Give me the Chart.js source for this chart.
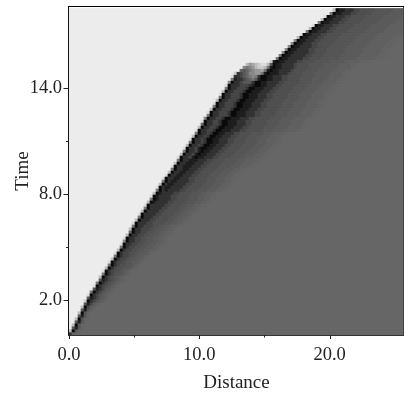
<!DOCTYPE html>
<html>
<head>
<meta charset="utf-8">
<style>html,body{margin:0;padding:0;background:#fff}canvas{display:block}</style>
<script src="https://cdn.jsdelivr.net/npm/chart.js@4/dist/chart.umd.js"></script>
</head>
<body>
<canvas id="c" width="417" height="396"></canvas>
<script>
const xTitle = "Distance";
const yTitle = "Time";
const xMajorTicks = [0, 10, 20];
const xMinorTicks = [5, 15];
const yMajorTicks = [2, 8, 14];
const yMinorTicks = [5, 11];
const xMax = 25.71;
const yMax = 18.6;
const cellDistance = 0.2302;
const cellTime = 0.1698;
const columnCount = 112;
const lightLevel = "e";
const baseLevel = "6";
const levelGrays = { "0": 4, "1": 10, "2": 30, "3": 50, "4": 70, "5": 88, "6": 102, "7": 119, "8": 136, "9": 153, a: 170, b: 187, c: 204, d: 221, e: 236, g: 80, h: 86, i: 91, j: 96, k: 100 };

// Row by row, from the bottom: first column of the band, and levels across the band.
const bandStarts = [
0,0,1,1,2,2,3,3,4,4,5,5,6,6,7,8,8,9,10,10,11,11,12,13,13,14,15,15,16,17,
17,18,18,19,20,20,21,21,22,23,23,24,25,25,26,27,27,28,29,29,30,31,31,32,33,34,34,35,36,36,
37,38,38,39,40,40,41,42,42,43,44,44,45,46,46,47,48,48,49,50,50,51,52,52,53,54,54,55,56,57,
58,67,69,70,71,72,73,74,75,76,77,79,80,81,83,84,85,87,88
];
const bandLevels = [
"36","b1h","52hk","b1ik","52hk","b1hk","52hk","b1hk","52hj","b14ij",
"524ij","c134hij","5234hij","d134hijk","7134hijk","5234hijk","d134ghijk","7134ghijk","5234ghijk","b134ghijk",
"7134ghhijk","d134gghijk","b134gghhijk","7134gghhijk","d1344ghhiijk","b1344ghhiijk","71344ghhiijk","d1344gghhiijk","b1344gghhiijjk","71344gghhiijjk",
"d13344gghhiijjk","813344gghhiijjk","d13344gghhiijjk","b13344gghhiijjk","613344gghhiijjk","b133444gghhiijjk","7133444gghhiijjk","d133344gggghhiijjk","b133344gggghhiijjk","7133344gggghhiijjk",
"d1333344gggghhiijjk","b1333344gggghhiijjk","71333344gggghhiijjk","d13333344gggghhiijjk","b12333344gggghhhiijjk","712333344gggghhhiijjk","d12333344gggghhhiijjkk","b12333344gggghhhiijjkk","7132333344gggghhhiiijjkk","d1322333344gggghhhiiijjkk",
"b1322333344gggghhhiiijjkk","71322333344gggghhhiiijjkk","d1332233344gggghhhiiijjkk","d1332233344gggghhhiiijjkk","b1332233344gggghhhiiijjkk","71332233344gggghhhiiijjkk","d13322233344gggghhhhiiijjjkk","b13322233344gggghhhhiiijjjkk","713322233344gggghhhhiiijjjkk","d1334212233344gggghhhhiiijjjkk",
"b1334212233344gggghhhhiiijjjkk","71334212233344gggghhhhiiijjjkk","d13342112233344gggghhhhiiijjjkk","b13343112233344gggghhhhiiijjjkk","713343112233344gggghhhhiiijjjkk","d13343112233344gggghhhhiiijjjkk","b13343112233344gggghhhhiiijjjkk","713343112233344gggghhhhiiijjjkk","d1334431122233344ggggghhhhiiiijjjjkk","b1334431122233344ggggghhhhiiiijjjjkk",
"61334431122233344ggggghhhhiiiijjjjkk","d1334431122233344ggggghhhhiiiijjjjkk","81334431122233344ggggghhhhiiiijjjjkk","713344431122233344ggggghhhhiiiijjjjkk","d13344431122233344ggggghhhhiiiijjjjkk","b13344431122233344ggggghhhhiiiijjjjkk","713344431122233344ggggghhhhiiiijjjjkk","d13344431122233344ggggghhhhiiiijjjjkk","b13344431122233344ggggghhhhiiiijjjjkk","713344431122233344ggggghhhhiiiijjjjkk",
"d13344431122233344ggggghhhhiiiijjjjkk","b13344431122233344ggggghhhhiiiijjjjkk","713344431122233344ggggghhhhiiiijjjjkk","d133344432112233344ggggghhhhiiiijjjjkk","8133455531122333344ggggghhhhiiiijjjjkk","7233456752112233344gggghhhhiiiiijjjjkk","d334567873112233344ggggghhhhiiiiijjjjkk","c345688997212223334gggghhhhiiiiijjjjkk","e6567899a7212233334gggghhhhiiiiijjjjkk","e8789bccb7212233334gggghhhhhiiiiijjjjkk",
"eb9abcddb512233334gggghhhhhiiiiijjjjkk","c2122333344gggghhhhhiiiiijjjjjkkk","71223333344gggghhhhhhiiiiiijjjjjjkkk","71223333344gggghhhhhhiiiiiijjjjjjkkk","81223333344gggghhhhhhiiiiiijjjjjjkkk","8122333344gggghhhhhhiiiiiijjjjjjkkk","8122333344gggghhhhhhiiiiiijjjjjjkkk","812233344ggggghhhhhhiiiiiijjjjjjkkk","812233344ggggghhhhhhiiiiiijjjjjjkkk","b12233344ggggghhhhhhiiiiiijjjjjjkkk",
"d12233344ggggghhhhhhiiiiiijjjjjjkkk","712233344ggggghhhhhhiiiiiijjjjjjkkk","b12233344ggggghhhhhhiiiiiijjjjjjkkk","d12233344ggggghhhhhhiiiiiijjjjjjkkk","712233344ggggghhhhhhiiiiiijjjjjjkkk","b12233344ggggghhhhhhiiiiiijjjjjjkkk","d12233344ggggghhhhhhiiiiiijjjjjjkkk","712233344ggggghhhhhhiiiiiijjjjjjkkk","b12233344ggggghhhhhhiiiiiijjjjjjkkk"
];

const grayOf = l => { const g = levelGrays[l]; return `rgb(${g},${g},${g})`; };
const cells = [], cellColors = [];
function addCell(time, d0, d1, level) { cells.push({ y: time, x: [d0, d1] }); cellColors.push(grayOf(level)); }
bandLevels.forEach((s, r) => {
  const t = (r + 0.5) * cellTime, c0 = bandStarts[r];
  if (c0 > 0) addCell(t, 0, c0 * cellDistance, lightLevel);
  for (let i = 0; i < s.length; i++) addCell(t, (c0 + i) * cellDistance, (c0 + i + 1) * cellDistance, s[i]);
  if (c0 + s.length < columnCount) addCell(t, (c0 + s.length) * cellDistance, columnCount * cellDistance, baseLevel);
});

const tickFont = { family: "'Liberation Serif', serif", size: 18.5 };
const titleFont = { family: "'Liberation Serif', serif", size: 19 };

function tickValues(major, minor) { return major.concat(minor).sort((a, b) => a - b).map(v => ({ value: v })); }
function noScalePadding(s) { s.paddingLeft = s.paddingRight = s.paddingTop = s.paddingBottom = 0; }

const framePlugin = {
  id: 'frame',
  afterDatasetsDraw(chart) {
    const { ctx, chartArea: a } = chart;
    ctx.save();
    ctx.beginPath(); ctx.rect(a.left, a.top + 1.5, a.right - a.left, a.bottom - a.top - 1.5); ctx.clip();
    ctx.filter = 'blur(0.55px)';
    ctx.drawImage(ctx.canvas, 0, 0);
    ctx.restore();
  },
  afterDraw(chart) {
    const { ctx, chartArea: a, scales: { x, y } } = chart;
    ctx.save();
    ctx.lineWidth = 1;
    const line = (x0, y0, x1, y1, col) => { ctx.strokeStyle = col; ctx.beginPath(); ctx.moveTo(x0, y0); ctx.lineTo(x1, y1); ctx.stroke(); };
    line(a.left - 0.5, a.top - 0.5, a.right, a.top - 0.5, '#000');
    line(a.left - 0.5, a.top - 1, a.left - 0.5, a.bottom + 1, '#111');
    line(a.left - 1, a.bottom + 0.5, a.right, a.bottom + 0.5, '#333');
    line(a.right - 0.5, a.top, a.right - 0.5, a.bottom, '#444');
    xMajorTicks.forEach(v => { const p = Math.round(x.getPixelForValue(v)) + 0.5; line(p, a.bottom, p, a.bottom + 4, '#222'); });
    xMinorTicks.forEach(v => { const p = Math.round(x.getPixelForValue(v)) + 0.5; line(p, a.bottom, p, a.bottom + 2.5, '#222'); });
    yMajorTicks.forEach(v => { const p = Math.round(y.getPixelForValue(v)) + 0.5; line(a.left - 5.5, p, a.left, p, '#222'); });
    yMinorTicks.forEach(v => { const p = Math.round(y.getPixelForValue(v)) + 0.5; line(a.left - 3, p, a.left, p, '#222'); });
    ctx.restore();
  }
};

new Chart(document.getElementById('c').getContext('2d'), {
  type: 'bar',
  plugins: [framePlugin],
  data: {
    datasets: [{
      data: cells,
      backgroundColor: cellColors,
      barThickness: 3,
      inflateAmount: 0.35,
      borderWidth: 0
    }]
  },
  options: {
    indexAxis: 'y',
    responsive: false,
    animation: false,
    events: [],
    layout: { padding: { left: 0, top: 7, right: 13, bottom: 0 } },
    plugins: { legend: { display: false }, tooltip: { enabled: false }, title: { display: false } },
    scales: {
      x: {
        type: 'linear', min: 0, max: xMax, offset: false,
        grid: { display: false, drawTicks: false },
        border: { display: false },
        afterBuildTicks: s => { s.ticks = tickValues(xMajorTicks, xMinorTicks); },
        afterFit: s => { s.height = 61; noScalePadding(s); },
        ticks: {
          autoSkip: false, maxRotation: 0, padding: 9, color: '#222', font: tickFont,
          callback: v => xMajorTicks.includes(v) ? v.toFixed(1) : ''
        },
        title: { display: true, text: xTitle, color: '#222', font: titleFont, padding: { top: 0, bottom: 2 } }
      },
      y: {
        type: 'linear', min: 0, max: yMax, offset: false,
        grid: { display: false, drawTicks: false },
        border: { display: false },
        afterBuildTicks: s => { s.ticks = tickValues(yMajorTicks, yMinorTicks); },
        afterFit: s => { s.width = 69; noScalePadding(s); },
        ticks: {
          autoSkip: false, padding: 7, color: '#222', font: tickFont,
          callback: v => yMajorTicks.includes(v) ? v.toFixed(1) : ''
        },
        title: { display: true, text: yTitle, color: '#222', font: titleFont, padding: { top: 12, bottom: 0 } }
      }
    }
  }
});
</script>
</body>
</html>
